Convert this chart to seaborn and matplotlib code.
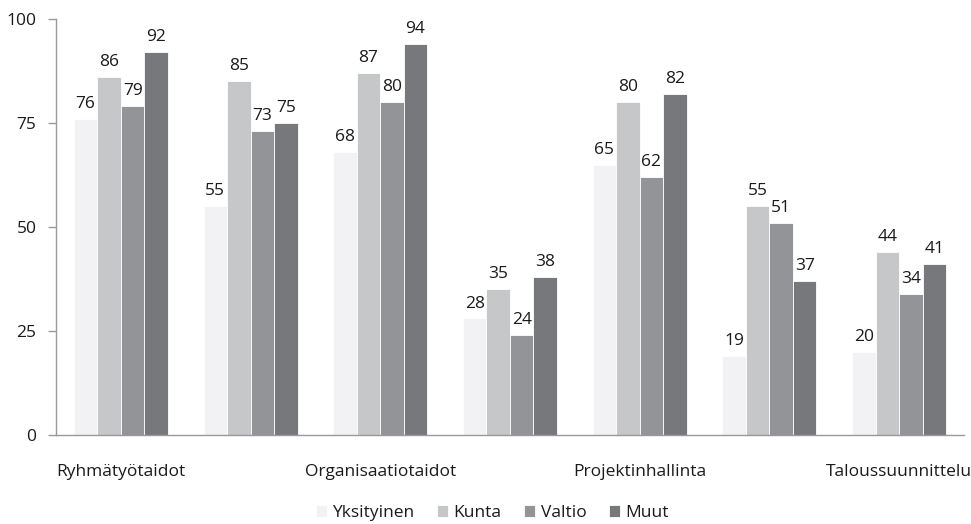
import numpy as np
import pandas as pd
import matplotlib
matplotlib.use('Agg')
import matplotlib.pyplot as plt
import seaborn as sns

# Chart data
groups = ['Ryhmätyötaidot', '', 'Organisaatiotaidot', '', 'Projektinhallinta', '', 'Taloussuunnittelu']
sectors = ['Yksityinen', 'Kunta', 'Valtio', 'Muut']
yksityinen = [76, 55, 68, 28, 65, 19, 20]
kunta = [86, 85, 87, 35, 80, 55, 44]
valtio = [79, 73, 80, 24, 62, 51, 34]
muut = [92, 75, 94, 38, 82, 37, 41]
yticks = [0, 25, 50, 75, 100]

colors = ['#f2f2f4', '#c6c7c9', '#939498', '#77787c']

# Long format table for seaborn
rows = []
for name, vals in zip(sectors, [yksityinen, kunta, valtio, muut]):
    for i, v in enumerate(vals):
        rows.append({'group': i, 'sector': name, 'value': v})
df = pd.DataFrame(rows)

sns.set_style('white')
plt.rcParams['font.family'] = ['Open Sans', 'DejaVu Sans']

fig = plt.figure(figsize=(9.71, 5.24), dpi=100)
ax = fig.add_axes([0.0577, 0.170, 0.935, 0.7937])

sns.barplot(data=df, x='group', y='value', hue='sector', hue_order=sectors,
            order=list(range(len(groups))), palette=colors, saturation=1,
            width=0.725, edgecolor='white', linewidth=0.6, ax=ax)

for cont in ax.containers:
    ax.bar_label(cont, padding=5, fontsize=12.5, color='#1a1a1a')

ax.set_ylim(0, 100)
ax.set_xlim(-0.5, len(groups) - 0.5)
ax.set_yticks(yticks)
ax.set_yticklabels([str(t) for t in yticks], fontsize=12.5, color='#1a1a1a')

# group boundary ticks + label every other group
ax.set_xticks(np.arange(len(groups) + 1) - 0.5)
ax.set_xticklabels([''] * (len(groups) + 1))
ax.set_xticks(np.arange(len(groups)), minor=True)
ax.set_xticklabels(groups, minor=True, fontsize=12.5, color='#1a1a1a')
ax.tick_params(axis='x', which='major', length=6, width=1, color='#999999', direction='out')
ax.tick_params(axis='x', which='minor', length=0, pad=21)
ax.tick_params(axis='y', length=6, width=1, color='#999999', direction='out', left=True, pad=8)

ax.set_xlabel('')
ax.set_ylabel('')
for side in ['top', 'right']:
    ax.spines[side].set_visible(False)
for side in ['left', 'bottom']:
    ax.spines[side].set_color('#999999')
    ax.spines[side].set_linewidth(1)

handles, labels = ax.get_legend_handles_labels()
ax.get_legend().remove()
leg = fig.legend(handles, labels, loc='lower center', bbox_to_anchor=(0.507, -0.024), ncol=4,
                 frameon=False, fontsize=12.5, handlelength=0.65, handleheight=0.65,
                 handletextpad=0.3, columnspacing=1.3)
for t in leg.get_texts():
    t.set_color('#1a1a1a')

fig.savefig('out.png', dpi=100)
